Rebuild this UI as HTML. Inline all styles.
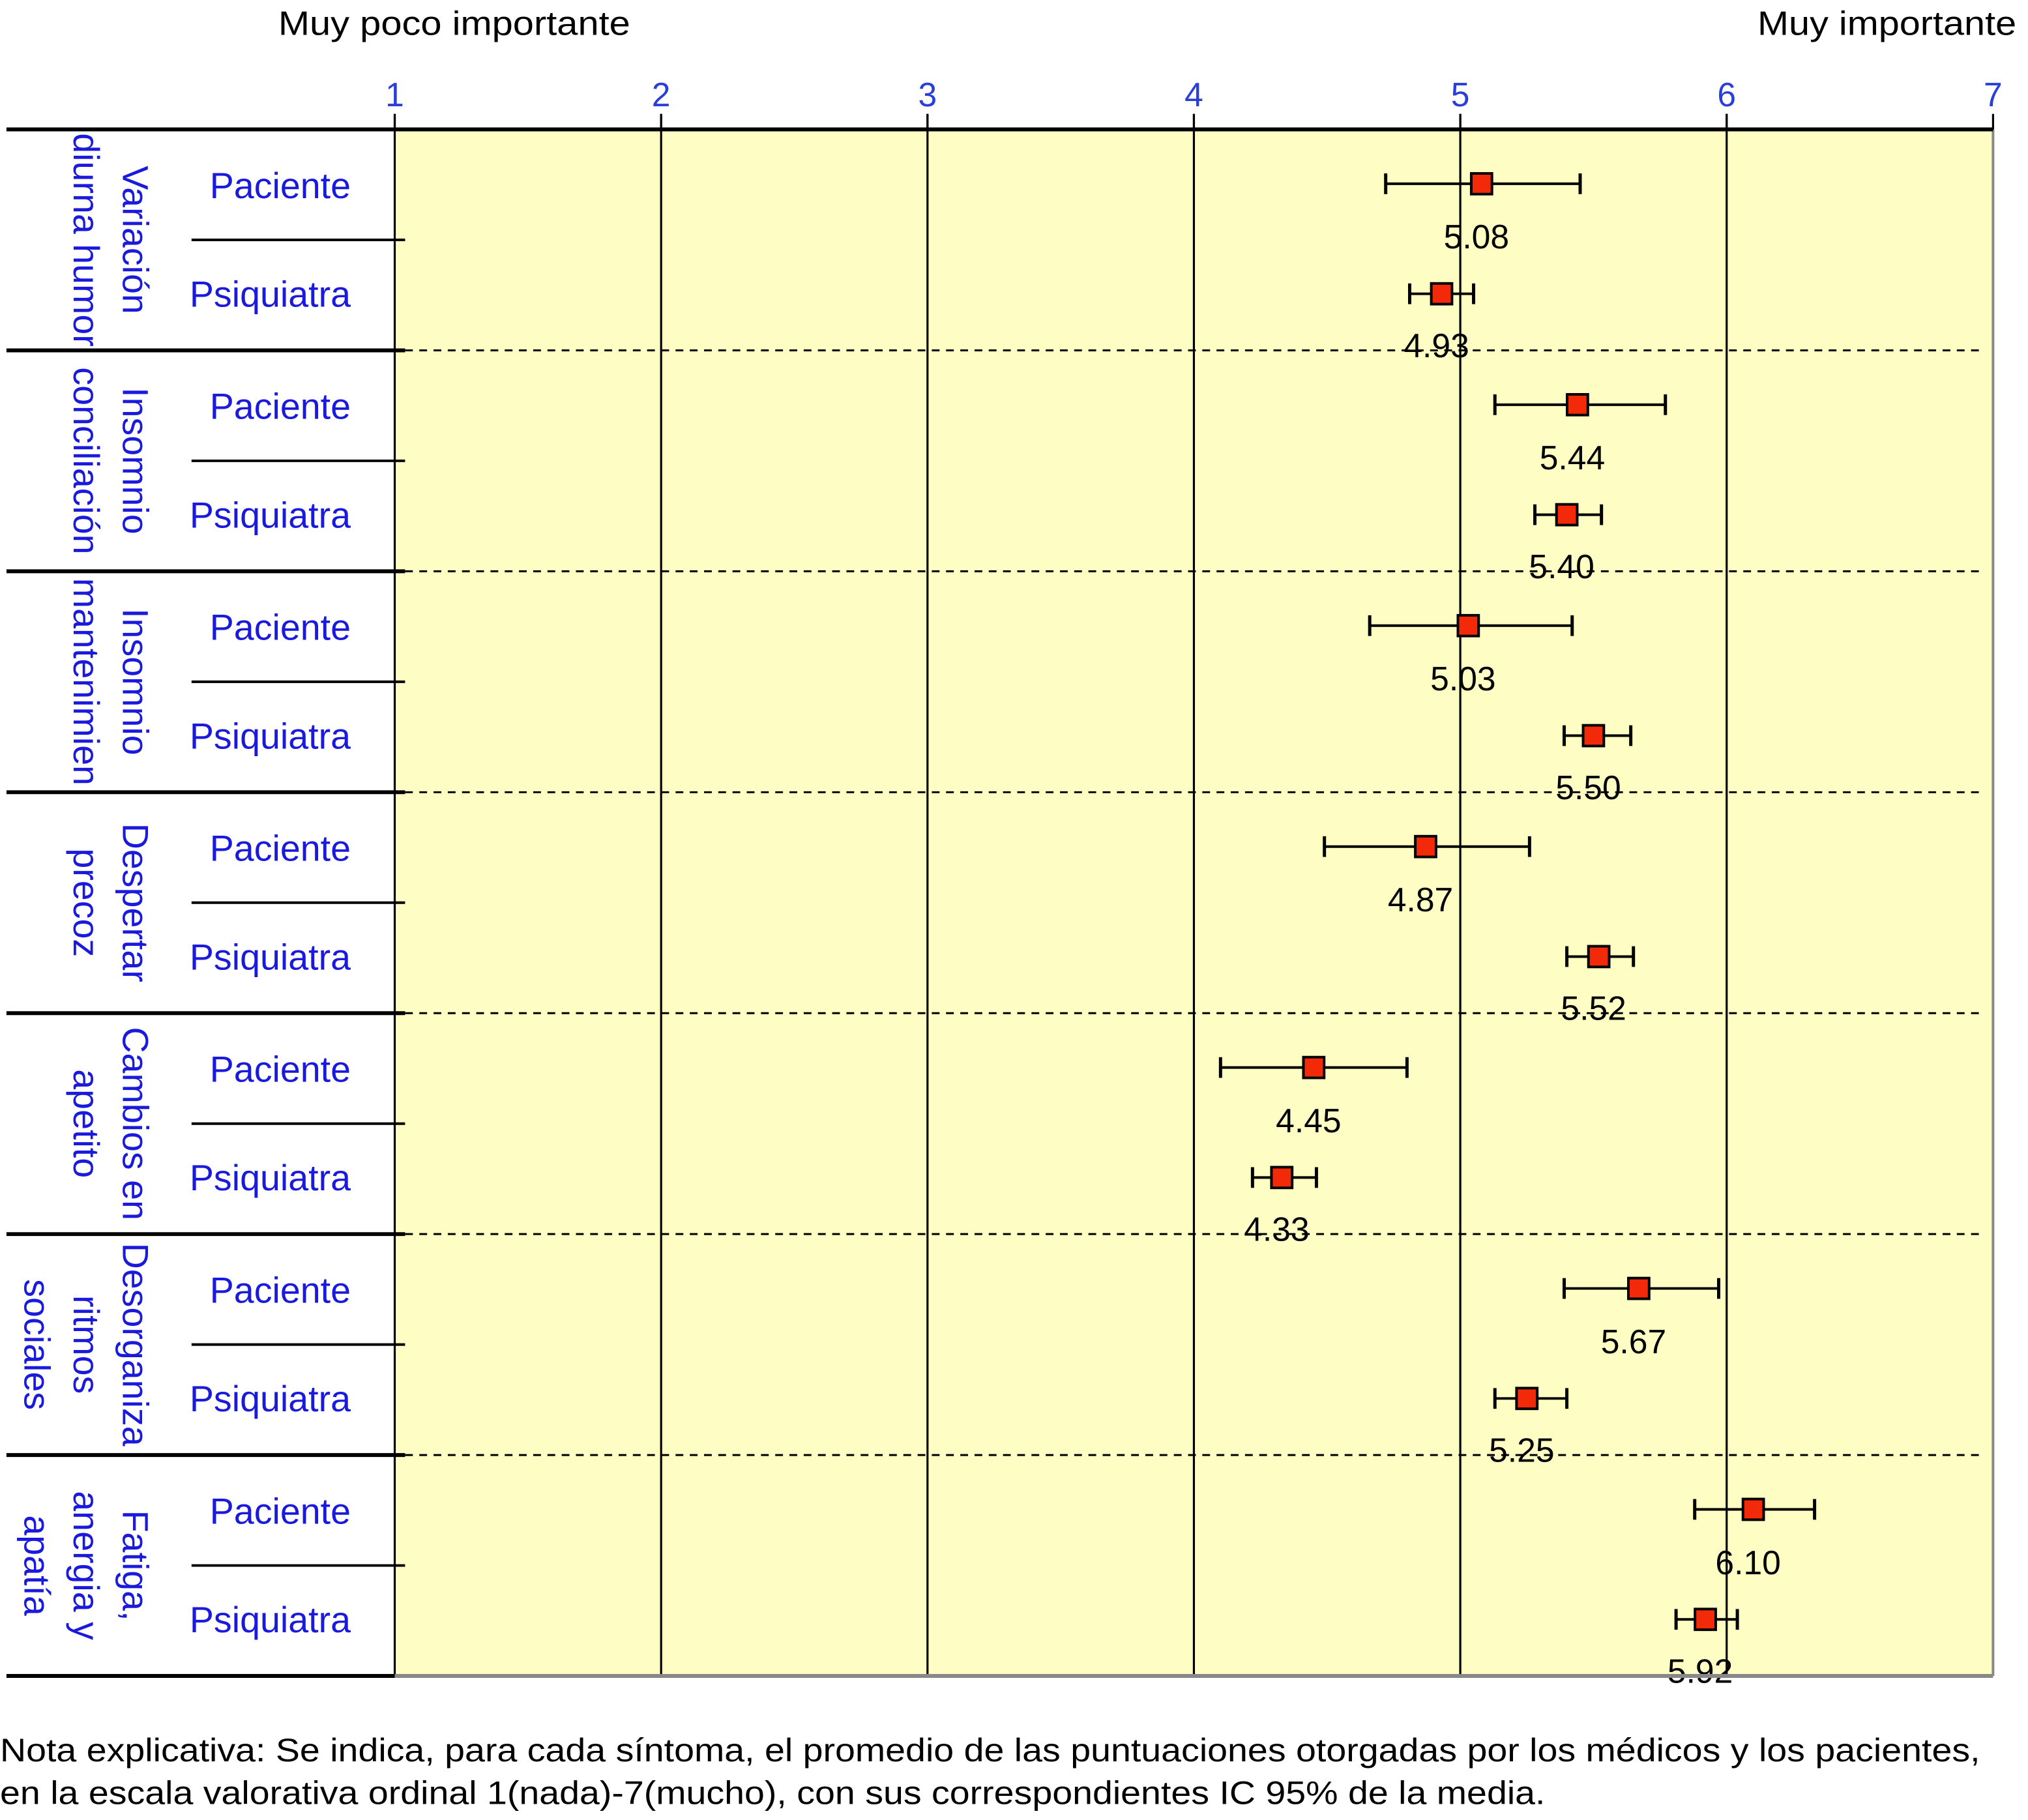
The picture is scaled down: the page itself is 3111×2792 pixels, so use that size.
<!DOCTYPE html>
<html><head><meta charset="utf-8"><style>
html,body{margin:0;padding:0;background:#fff;}
svg{display:block;}
text{font-family:"Liberation Sans",Arial,sans-serif;}
</style></head><body>
<svg id="chart" width="3111" height="2792" viewBox="0 0 1567 1406.3" preserveAspectRatio="none" xmlns="http://www.w3.org/2000/svg">
<rect x="305" y="100" width="1235" height="1195" fill="#fefec4"/>
<text x="215" y="27" font-size="26" textLength="272" lengthAdjust="spacingAndGlyphs">Muy poco importante</text>
<text x="1358" y="27" font-size="26" textLength="200" lengthAdjust="spacingAndGlyphs">Muy importante</text>
<g id="axis"></g>
<g id="rows"></g>
<g id="marks"></g>
<line x1="1540" y1="100" x2="1540" y2="1295" stroke="#888" stroke-width="2"/>
<line x1="305" y1="1295" x2="1540" y2="1295" stroke="#888" stroke-width="3"/>
<line x1="5" y1="100" x2="1540" y2="100" stroke="#000" stroke-width="3"/>
<text x="0" y="1361" font-size="25" textLength="1530" lengthAdjust="spacingAndGlyphs">Nota explicativa: Se indica, para cada síntoma, el promedio de las puntuaciones otorgadas por los médicos y los pacientes,</text>
<text x="0" y="1394" font-size="25" textLength="1194" lengthAdjust="spacingAndGlyphs">en la escala valorativa ordinal 1(nada)-7(mucho), con sus correspondientes IC 95% de la media.</text>
</svg>
<script>
const ticks = [1,2,3,4,5,6,7];
const groupLabels = [["Variación","diurna humor"],["Insomnio","conciliación"],["Insomnio","mantenimien"],["Despertar","precoz"],["Cambios en","apetito"],["Desorganiza","ritmos","sociales"],["Fatiga,","anergia y","apatía"]];
const pacMean = [5.08,5.44,5.03,4.87,4.45,5.67,6.10];
const pacLo = [4.72,5.13,4.66,4.49,4.10,5.39,5.88];
const pacHi = [5.45,5.77,5.42,5.26,4.80,5.97,6.33];
const psqMean = [4.93,5.40,5.50,5.52,4.33,5.25,5.92];
const psqLo = [4.81,5.28,5.39,5.40,4.22,5.13,5.81];
const psqHi = [5.05,5.53,5.64,5.65,4.46,5.40,6.04];
const pacLabels = ["5.08","5.44","5.03","4.87","4.45","5.67","6.10"];
const psqLabels = ["4.93","5.40","5.50","5.52","4.33","5.25","5.92"];

const NS="http://www.w3.org/2000/svg";
const X0=305, X1=1540, Y0=100, Y1=1295;
const xs = v => X0 + (v-1)*(X1-X0)/6;
const gH = (Y1-Y0)/groupLabels.length;
const gy = i => Y0 + i*gH;
function mk(tag, attrs, parent, txt){
  const e=document.createElementNS(NS,tag);
  for(const k in attrs) e.setAttribute(k,attrs[k]);
  if(txt!==undefined) e.textContent=txt;
  parent.appendChild(e); return e;
}
const axis=document.getElementById('axis');
ticks.forEach(t=>{
  const l=mk('line',{x1:xs(t),x2:xs(t),y1:88,y2:Y1,stroke:'#000','stroke-width':(t===7?0:1.6)},axis);
  
  
  const tk=mk('line',{x1:xs(t),x2:xs(t),y1:88,y2:100,stroke:'#000','stroke-width':1.6},axis);
  
  
  const tl=mk('text',{x:xs(t),y:82,'font-size':26,'text-anchor':'middle',fill:'#2a3fd8'},axis,String(t));
  
  
});
const rows=document.getElementById('rows');
groupLabels.forEach((lines,i)=>{
  const top=gy(i), bot=gy(i+1), mid=(top+bot)/2;
  if(i<groupLabels.length-1){
    const d=mk('line',{x1:313,x2:1532,y1:bot,y2:bot,stroke:'#000','stroke-width':1.5,'stroke-dasharray':'6,5'},rows);
    
    
  }
  const b=mk('line',{x1:5,x2:313,y1:bot,y2:bot,stroke:'#000','stroke-width':3},rows);
  
  
  const s=mk('line',{x1:148,x2:313,y1:top+gH/2,y2:top+gH/2,stroke:'#000','stroke-width':2},rows);
  
  
  const p=mk('text',{x:271,y:top+53,'font-size':28,'text-anchor':'end',fill:'#1a1adc'},rows,'Paciente');
  
  
  const q=mk('text',{x:271,y:top+137,'font-size':28,'text-anchor':'end',fill:'#1a1adc'},rows,'Psiquiatra');
  
  
  lines.forEach((ln,j)=>{
    const cx=95-j*38;
    const t=mk('text',{x:cx,y:mid,'font-size':28,'text-anchor':'middle',fill:'#1a1adc',transform:`rotate(90 ${cx} ${mid})`},rows,ln);
    
    
  });
});
const marks=document.getElementById('marks');
function drawPoint(cy, m, lo, hi, lab, ly, name){
  const g=mk('g',{},marks);
  
  
  mk('line',{x1:xs(lo),x2:xs(hi),y1:cy,y2:cy,stroke:'#000','stroke-width':2},g);
  mk('line',{x1:xs(lo),x2:xs(lo),y1:cy-8,y2:cy+8,stroke:'#000','stroke-width':2.5},g);
  mk('line',{x1:xs(hi),x2:xs(hi),y1:cy-8,y2:cy+8,stroke:'#000','stroke-width':2.5},g);
  mk('rect',{x:xs(m)-8,y:cy-8,width:16,height:16,fill:'#f22a0a',stroke:'#000','stroke-width':2},g);
  mk('text',{x:xs(m)-4,y:ly,'font-size':26,'text-anchor':'middle',fill:'#000'},g,lab);
}
groupLabels.forEach((_,i)=>{
  const top=gy(i);
  drawPoint(top+42,pacMean[i],pacLo[i],pacHi[i],pacLabels[i],top+92,'paciente-point');
  drawPoint(top+127,psqMean[i],psqLo[i],psqHi[i],psqLabels[i],top+176,'psiquiatra-point');
});
</script>
</body></html>
